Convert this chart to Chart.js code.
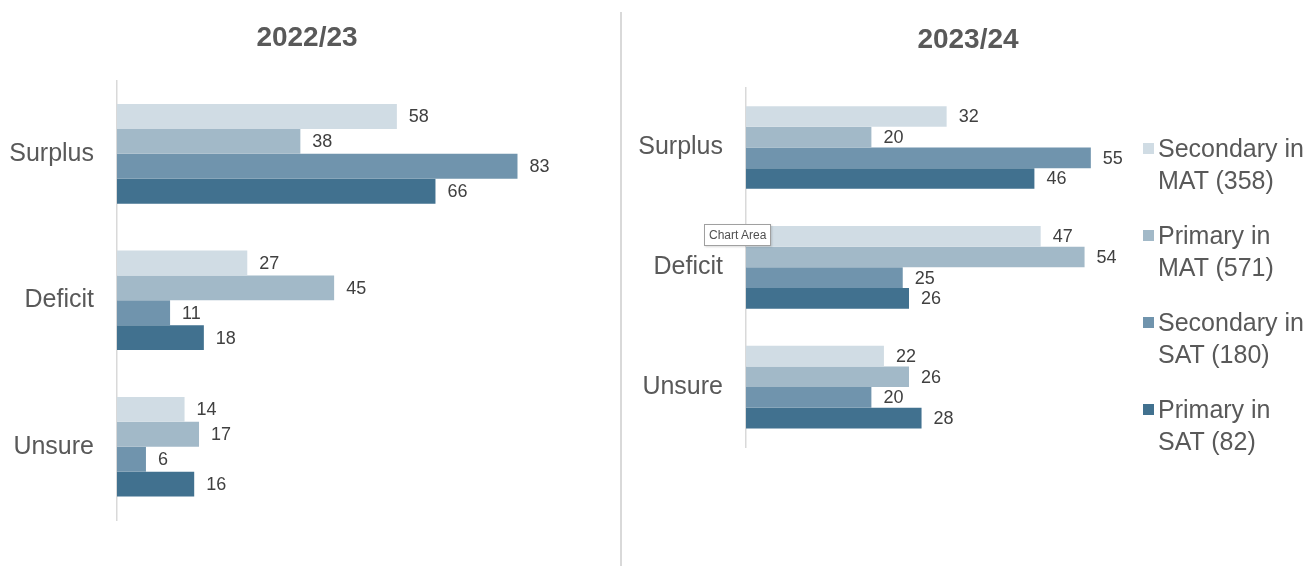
<!DOCTYPE html>
<html>
<head>
<meta charset="utf-8">
<script src="https://cdn.jsdelivr.net/npm/chart.js@4.4.1/dist/chart.umd.min.js"></script>
<style>
  body { margin: 0; background: #fff; font-family: "Liberation Sans", Arial, sans-serif; }
  #wrap { position: relative; width: 1304px; height: 566px; overflow: hidden; }
  .box { position: absolute; top: 0; height: 566px; }
  #left { left: 0; width: 634px; }
  #right { left: 632px; width: 672px; }
  #divider { position: absolute; left: 620px; top: 12px; width: 2px; height: 554px; background: #d9d9d9; }
  #legend { position: absolute; left: 1143px; top: 132px; color: #595959; font-size: 25px; }
  .item { display: flex; align-items: flex-start; margin-bottom: 23px; }
  .item .sw { width: 11px; height: 11px; margin-top: 11px; margin-right: 4px; flex: none; }
  .item .txt { line-height: 32px; white-space: nowrap; }
  #hint { position: absolute; left: 704px; top: 224px; padding: 3px 4px; font-size: 12px; color: #505050;
          background: #fff; border: 1px solid #a0a0a0; box-shadow: 1px 1px 2px rgba(0,0,0,0.15); }
</style>
</head>
<body>
<div id="wrap">
  <div class="box" id="left"><canvas id="chart1"></canvas></div>
  <div class="box" id="right"><canvas id="chart2"></canvas></div>
  <div id="divider"></div>
  <div id="legend"></div>
  <div id="hint">Chart Area</div>
</div>
<script>
const categories = ['Surplus', 'Deficit', 'Unsure'];
const seriesNames = [['Secondary in', 'MAT (358)'], ['Primary in', 'MAT (571)'], ['Secondary in', 'SAT (180)'], ['Primary in', 'SAT (82)']];
const colours = ['#d0dce4', '#a2b9c8', '#7094ad', '#41718f'];

// 2022/23
const secMat22 = [58, 27, 14];
const priMat22 = [38, 45, 17];
const secSat22 = [83, 11, 6];
const priSat22 = [66, 18, 16];

// 2023/24
const secMat23 = [32, 47, 22];
const priMat23 = [20, 54, 26];
const secSat23 = [55, 25, 20];
const priSat23 = [46, 26, 28];

const FONT = '"Liberation Sans", Arial, sans-serif';

// value labels just past the end of every bar
const barLabels = {
  id: 'barLabels',
  afterDatasetsDraw(chart) {
    const c = chart.ctx;
    c.save();
    c.font = '18px ' + FONT;
    c.fillStyle = '#404040';
    c.textAlign = 'left';
    c.textBaseline = 'middle';
    chart.data.datasets.forEach((ds, i) => {
      chart.getDatasetMeta(i).data.forEach((bar, j) => {
        c.fillText(ds.data[j], bar.x + 12, bar.y + 1);
      });
    });
    c.restore();
  }
};

function makeChart(id, title, series, opts) {
  new Chart(document.getElementById(id), {
    type: 'bar',
    data: {
      labels: categories,
      datasets: series.map((s, i) => ({
        label: seriesNames[i].join(' '),
        data: s,
        backgroundColor: colours[i],
        borderWidth: 0,
        barPercentage: 1,
        categoryPercentage: opts.catPct
      }))
    },
    options: {
      indexAxis: 'y',
      responsive: true,
      maintainAspectRatio: false,
      animation: false,
      layout: { padding: { left: 0, right: opts.padRight, top: 0, bottom: opts.padBottom } },
      plugins: {
        legend: { display: false },
        tooltip: { enabled: false },
        title: {
          display: true,
          text: title,
          color: '#595959',
          font: { family: FONT, size: 28, weight: 'bold' },
          padding: { top: opts.titleTop, bottom: opts.titleBottom }
        }
      },
      scales: {
        x: { display: false, min: 0, max: opts.xMax },
        y: {
          afterFit: (scale) => { scale.width = opts.axisWidth; },
          grid: { display: false, drawTicks: false },
          border: { display: true, color: '#d9d9d9', width: 1.5 },
          ticks: { color: '#595959', padding: 23, font: { family: FONT, size: 25 } }
        }
      }
    },
    plugins: [barLabels]
  });
}

makeChart('chart1', '2022/23', [secMat22, priMat22, secSat22, priSat22],
  { catPct: 0.68, xMax: 103, padRight: 20, padBottom: 46, titleTop: 21, titleBottom: 26, axisWidth: 117 });

makeChart('chart2', '2023/24', [secMat23, priMat23, secSat23, priSat23],
  { catPct: 0.69, xMax: 89, padRight: 0, padBottom: 119, titleTop: 23, titleBottom: 31, axisWidth: 114 });

// legend on the right
const legend = document.getElementById('legend');
seriesNames.forEach((name, i) => {
  const item = document.createElement('div');
  item.className = 'item';
  item.innerHTML = '<div class="sw" style="background:' + colours[i] + '"></div>' +
    '<div class="txt">' + name[0] + '<br>' + name[1] + '</div>';
  legend.appendChild(item);
});
</script>
</body>
</html>
